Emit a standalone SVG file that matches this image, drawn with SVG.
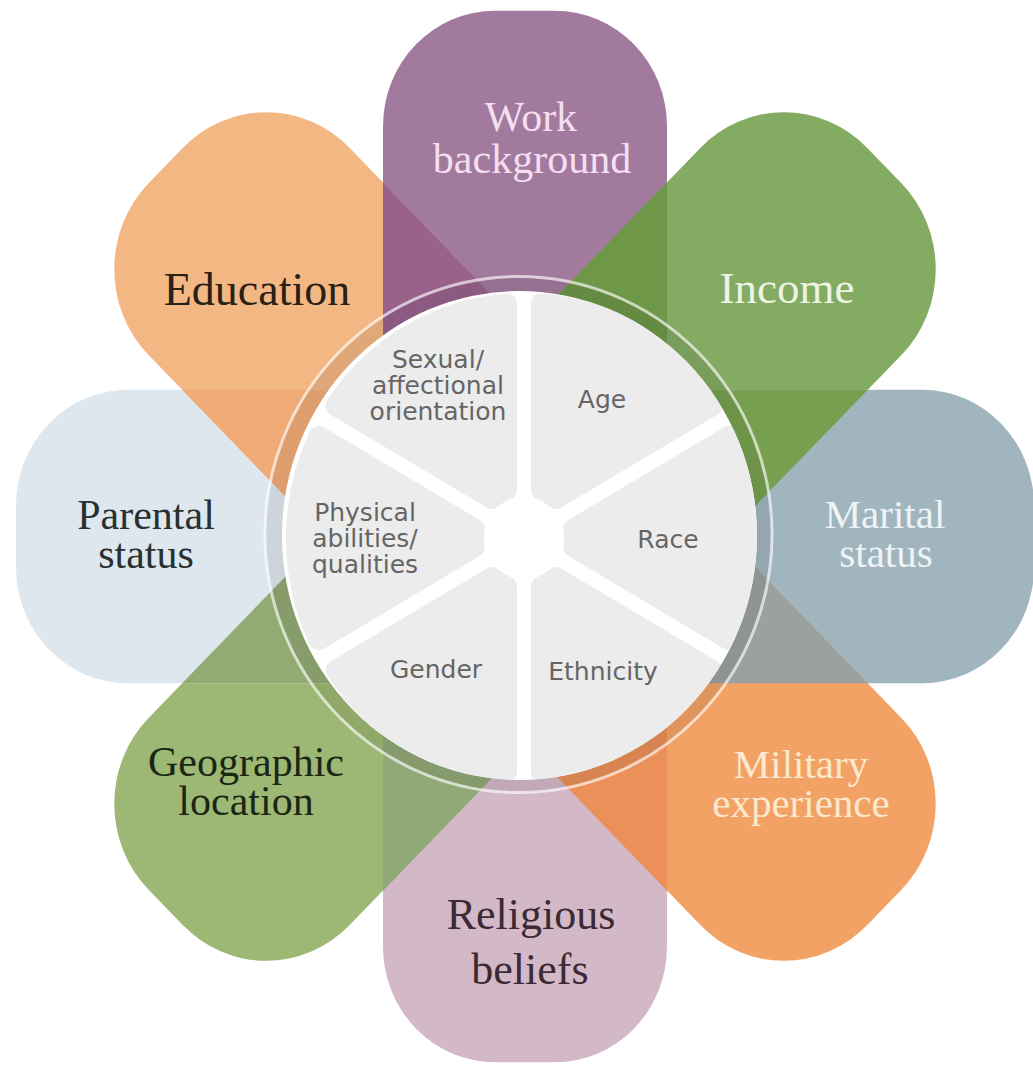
<svg xmlns="http://www.w3.org/2000/svg" xmlns:xlink="http://www.w3.org/1999/xlink" width="1033" height="1066" viewBox="0 0 1033 1066">
<style>
.lbl{font-family:"Liberation Serif","Times New Roman",serif;text-anchor:middle}
.in{font-family:"DejaVu Sans","Liberation Sans",sans-serif;font-size:25px;fill:#656565;text-anchor:middle}
.sec{fill:#ececec;stroke:#ececec;stroke-width:20;stroke-linejoin:round}
</style>
<defs>
<path id="pa" d="M-142,0 V-397 A112,112 0 0 1 -30,-509 H30 A112,112 0 0 1 142,-397 V0 Z"/>
<path id="pd" d="M-142,0 V-390 A118,118 0 0 1 -24,-508 H24 A118,118 0 0 1 142,-390 V0 Z"/>
<path id="sec" d="M49.2,-8.8 L205.4,-99 A228,228 0 0 1 205.4,99 L49.2,8.8 A50,50 0 0 0 49.2,-8.8 Z"/>
<clipPath id="cWork"><use xlink:href="#pa"/></clipPath>
<clipPath id="cMar"><use xlink:href="#pa" transform="rotate(90)"/></clipPath>
<clipPath id="cRel"><use xlink:href="#pa" transform="rotate(180)"/></clipPath>
<clipPath id="cPar"><use xlink:href="#pa" transform="rotate(270)"/></clipPath>
<clipPath id="cEdu"><use xlink:href="#pd" transform="rotate(315)"/></clipPath>
<clipPath id="cMil"><use xlink:href="#pd" transform="rotate(135)"/></clipPath>
<clipPath id="cDisc"><ellipse cx="519.5" cy="535.5" rx="237.5" ry="244.5"/></clipPath>
</defs>
<rect width="1033" height="1066" fill="#ffffff"/>

<g id="node-work">
<use xlink:href="#pa" transform="translate(525 536.5) scale(1 1.033)" fill="#a27a9e"/>
<text class="lbl" font-size="42" fill="#f3dff0"><tspan x="531" y="131">Work</tspan><tspan x="532" y="173">background</tspan></text>
</g>
<g id="node-income">
<use xlink:href="#pd" transform="translate(525 536.5) scale(1 1.033) rotate(45)" fill="#84ab62"/>
<text class="lbl" font-size="45" fill="#eef4e4" x="787" y="303">Income</text>
</g>
<g id="node-marital">
<use xlink:href="#pa" transform="translate(525 536.5) scale(1 1.033) rotate(90)" fill="#a1b5bf"/>
<text class="lbl" font-size="41" fill="#eef3f5"><tspan x="885" y="528">Marital</tspan><tspan x="886" y="567">status</tspan></text>
</g>
<g id="node-military">
<use xlink:href="#pd" transform="translate(525 536.5) scale(1 1.033) rotate(135)" fill="#f2a264"/>
<text class="lbl" font-size="41" fill="#fde9cf"><tspan x="801" y="778">Military</tspan><tspan x="801" y="817">experience</tspan></text>
</g>
<g id="node-religious">
<use xlink:href="#pa" transform="translate(525 536.5) scale(1 1.033) rotate(180)" fill="#d3b8c8"/>
<text class="lbl" font-size="44" fill="#3b2a33"><tspan x="531" y="929">Religious</tspan><tspan x="530" y="984">beliefs</tspan></text>
</g>
<g id="node-geographic">
<use xlink:href="#pd" transform="translate(525 536.5) scale(1 1.033) rotate(225)" fill="#9db875"/>
<text class="lbl" font-size="42" fill="#1c2614"><tspan x="246" y="776">Geographic</tspan><tspan x="246" y="815">location</tspan></text>
</g>
<g id="node-parental">
<use xlink:href="#pa" transform="translate(525 536.5) scale(1 1.033) rotate(270)" fill="#dfe7ee"/>
<text class="lbl" font-size="42" fill="#283030"><tspan x="146" y="529">Parental</tspan><tspan x="146" y="568">status</tspan></text>
</g>
<g id="node-education">
<use xlink:href="#pd" transform="translate(525 536.5) scale(1 1.033) rotate(315)" fill="#f3b784"/>
<text class="lbl" font-size="46" fill="#2a2116" x="257" y="305">Education</text>
</g>

<g id="overlaps" transform="translate(525 536.5) scale(1 1.033)">
<g clip-path="url(#cEdu)"><use xlink:href="#pa" fill="#98628b"/></g>
<g clip-path="url(#cWork)"><use xlink:href="#pd" transform="rotate(45)" fill="#6e9748"/></g>
<g clip-path="url(#cMar)"><use xlink:href="#pd" transform="rotate(45)" fill="#76a04f"/></g>
<g clip-path="url(#cMil)"><use xlink:href="#pa" transform="rotate(90)" fill="#9aa19f"/></g>
<g clip-path="url(#cRel)"><use xlink:href="#pd" transform="rotate(135)" fill="#eb9058"/></g>
<g clip-path="url(#cRel)"><use xlink:href="#pd" transform="rotate(225)" fill="#91a977"/></g>
<g clip-path="url(#cPar)"><use xlink:href="#pd" transform="rotate(225)" fill="#92ab72"/></g>
<g clip-path="url(#cPar)"><use xlink:href="#pd" transform="rotate(315)" fill="#f0ab76"/></g>
</g>

<g id="hub">
<ellipse cx="518.5" cy="534.5" rx="253.5" ry="258" fill="#000000" fill-opacity="0.08"/>
<ellipse cx="518.5" cy="534.5" rx="253.5" ry="258" fill="none" stroke="#ffffff" stroke-opacity="0.65" stroke-width="3"/>
<ellipse cx="519.5" cy="535.5" rx="237.5" ry="244.5" fill="#ffffff"/>
</g>

<g id="segments" clip-path="url(#cDisc)">
<g id="seg-age"><use xlink:href="#sec" class="sec" transform="translate(524 538) scale(1 1.03) rotate(-60)"/><text class="in" x="602" y="408">Age</text></g>
<g id="seg-race"><use xlink:href="#sec" class="sec" transform="translate(524 538) scale(1 1.03) rotate(0)"/><text class="in" x="668" y="548">Race</text></g>
<g id="seg-ethnicity"><use xlink:href="#sec" class="sec" transform="translate(524 538) scale(1 1.03) rotate(60)"/><text class="in" x="603" y="680">Ethnicity</text></g>
<g id="seg-gender"><use xlink:href="#sec" class="sec" transform="translate(524 538) scale(1 1.03) rotate(120)"/><text class="in" x="436" y="678">Gender</text></g>
<g id="seg-physical"><use xlink:href="#sec" class="sec" transform="translate(524 538) scale(1 1.03) rotate(180)"/><text class="in"><tspan x="365" y="521">Physical</tspan><tspan x="365" y="547">abilities/</tspan><tspan x="365" y="573">qualities</tspan></text></g>
<g id="seg-sexual"><use xlink:href="#sec" class="sec" transform="translate(524 538) scale(1 1.03) rotate(240)"/><text class="in"><tspan x="438" y="368">Sexual/</tspan><tspan x="438" y="394">affectional</tspan><tspan x="438" y="420">orientation</tspan></text></g>
</g>
<g id="connectors"/>
</svg>
